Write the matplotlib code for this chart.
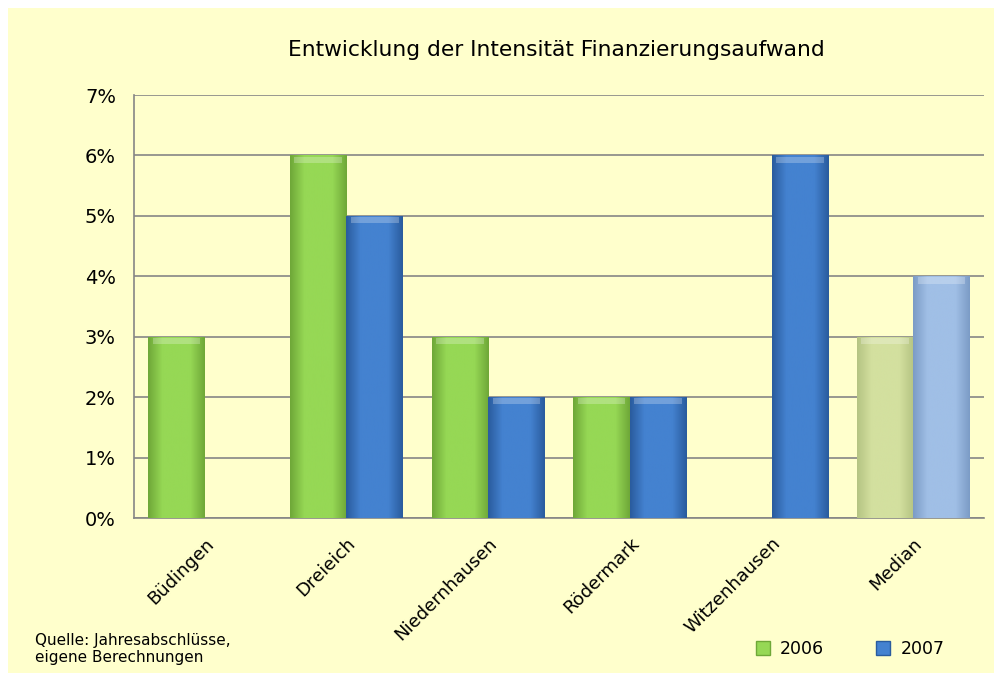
import matplotlib
matplotlib.use("Agg")
import matplotlib.pyplot as plt
import numpy as np
from matplotlib.patches import Patch
from matplotlib.colors import LinearSegmentedColormap

categories = ["Büdingen", "Dreieich", "Niedernhausen", "Rödermark", "Witzenhausen", "Median"]
values_2006 = [3, 6, 3, 2, 0, 3]
values_2007 = [0, 5, 2, 2, 6, 4]
series_labels = ["2006", "2007"]
y_ticks = [0, 1, 2, 3, 4, 5, 6, 7]

plt.rcParams['font.family'] = ['DejaVu Sans']

BG = "#FFFFCC"
fig = plt.figure(figsize=(9.94, 6.73), dpi=100)
fig.patch.set_facecolor("white")
fig.add_artist(plt.Rectangle((8/994, 0), 1, 1 - 8/673, transform=fig.transFigure,
                             facecolor=BG, edgecolor="none", zorder=-10))

ax = fig.add_axes([134/994, 1 - 518/673, (984 - 134)/994, (518 - 95)/673])
ax.set_facecolor(BG)

x = np.arange(len(categories))
w = 0.4

green = ["#96D855"] * 5 + ["#D3E09F"]
green_dark = ["#6FA838"] * 5 + ["#B5C483"]
blue = ["#4482D0"] * 5 + ["#A0BFE6"]
blue_dark = ["#2A5C9E"] * 5 + ["#7C9CC6"]

b1 = ax.bar(x - w/2, values_2006, w, color=green, linewidth=0, zorder=3)
b2 = ax.bar(x + w/2, values_2007, w, color=blue, linewidth=0, zorder=3)

def shade(bars, light, dark):
    for rect, lc, dc in zip(bars, light, dark):
        h = rect.get_height()
        if h <= 0:
            continue
        x0, y0, bw = rect.get_x(), rect.get_y(), rect.get_width()
        cmap = LinearSegmentedColormap.from_list("g", [dc, lc, lc, lc, dc])
        grad = np.linspace(0, 1, 64).reshape(1, -1)
        im = ax.imshow(grad, cmap=cmap, aspect="auto",
                       extent=(x0, x0 + bw, y0, y0 + h), zorder=3.5,
                       interpolation="bicubic")
        im.set_clip_path(rect)
        ax.fill_between([x0 + bw*0.08, x0 + bw*0.92], y0 + h - 0.12, y0 + h - 0.02,
                        color="white", alpha=0.25, linewidth=0, zorder=3.6)

shade(b1, green, green_dark)
shade(b2, blue, blue_dark)

ax.set_xlim(-0.5, len(categories) - 0.5)
ax.set_ylim(0, 7)
ax.set_yticks(y_ticks)
ax.set_yticklabels([f"{t}%" for t in y_ticks], fontsize=14)
ax.yaxis.grid(True, color="#868686", linewidth=1.2, zorder=0)
ax.set_axisbelow(True)
ax.tick_params(axis="y", length=0, pad=13)
ax.tick_params(axis="x", length=0, pad=12)
ax.set_xticks(x)
ax.set_xticklabels(categories, rotation=45, ha="right", rotation_mode="anchor", fontsize=13)
for s in ["top", "right"]:
    ax.spines[s].set_visible(False)
for s in ["left", "bottom"]:
    ax.spines[s].set_color("#868686")
    ax.spines[s].set_linewidth(1.2)

fig.text(556/994, 1 - 50/673, "Entwicklung der Intensität Finanzierungsaufwand",
         ha="center", va="center", fontsize=15.7)
fig.text(35/994, 1 - 649/673, "Quelle: Jahresabschlüsse,\neigene Berechnungen",
         ha="left", va="center", fontsize=11, linespacing=1.15)

handles = [Patch(facecolor="#96D855", edgecolor="#6FA838"),
           Patch(facecolor="#4482D0", edgecolor="#2A5C9E")]
fig.legend(handles, series_labels, loc="center left", bbox_to_anchor=(740/994, 1 - 649/673),
           ncol=2, frameon=False, fontsize=12.5, handlelength=0.8, handleheight=0.8,
           columnspacing=3.0, handletextpad=0.6)

fig.savefig("out.png", dpi=100, facecolor=fig.get_facecolor())
